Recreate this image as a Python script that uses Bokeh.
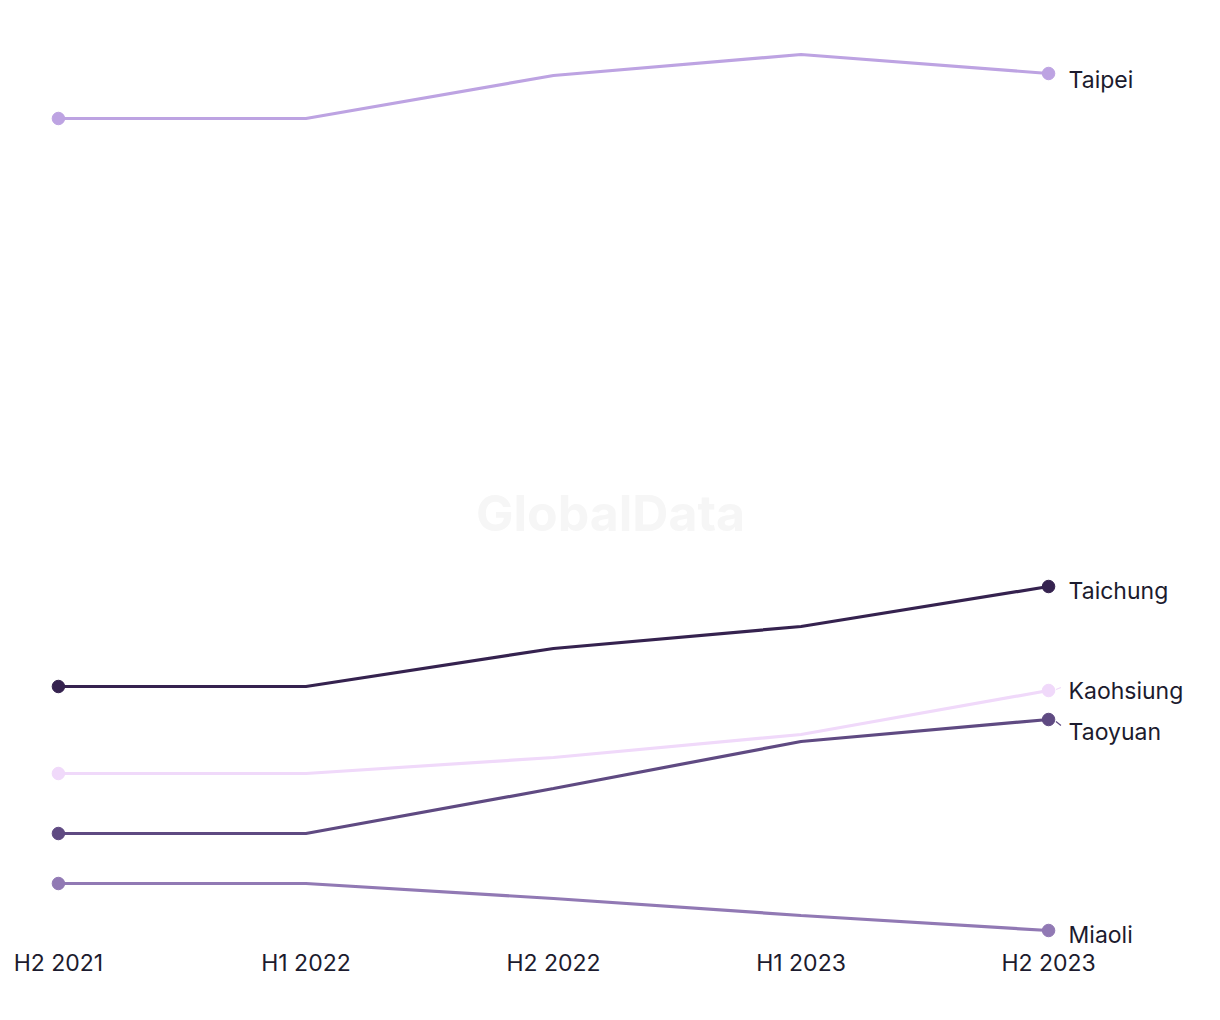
from bokeh.plotting import figure
from bokeh.models import Range1d, FixedTicker, Label, ColumnDataSource
from bokeh.core.properties import value
from bokeh.embed import file_html
from bokeh.resources import INLINE

periods = ["H2 2021", "H1 2022", "H2 2022", "H1 2023", "H2 2023"]
names = ["Taipei", "Taichung", "Kaohsiung", "Taoyuan", "Miaoli"]
taipei = [83.2, 83.2, 87.5, 89.6, 87.7]
taichung = [26.4, 26.4, 30.2, 32.4, 36.4]
kaohsiung = [17.7, 17.7, 19.3, 21.6, 26.0]
taoyuan = [11.7, 11.7, 16.2, 20.9, 23.1]
miaoli = [6.7, 6.7, 5.2, 3.5, 2.0]
series = [taipei, taichung, kaohsiung, taoyuan, miaoli]
colors = ["#bda3e2", "#35224f", "#f0d9fa", "#5f4a82", "#9179b4"]
label_y = [87.7, 36.6, 26.6, 22.5, 2.2]

FONT = "Inter"
TEXT = "#1c1b2e"

xs = list(range(len(periods)))

p = figure(width=1204, height=998, output_backend="svg", toolbar_location=None,
           x_range=Range1d(-0.234, 4.630), y_range=Range1d(0.2, 95.0),
           min_border_left=0, min_border_right=0, min_border_top=0, min_border_bottom=50)
p.outline_line_color = None
p.grid.visible = False
p.yaxis.visible = False
p.background_fill_color = "white"

wm = Label(x=610, y=436, x_units="screen", y_units="screen", text="GlobalData",
           text_align="center", text_baseline="middle", text_font=FONT,
           text_font_size="50px", text_font_style="bold", text_color="#f6f6f6")
p.add_layout(wm)

order = [2, 4, 3, 1, 0]
for i in order:
    p.line(xs, series[i], line_color=colors[i], line_width=3.2)
    p.scatter([xs[0], xs[-1]], [series[i][0], series[i][-1]], size=12.5,
              fill_color=colors[i], line_color=colors[i])

# short leader lines
p.segment(x0=[4.03, 4.03], y0=[26.1, 22.9], x1=[4.05, 4.05], y1=[26.3, 22.5],
          line_color=[colors[2], colors[3]], line_width=1.2)

src = ColumnDataSource(dict(x=[4] * 5, y=label_y, t=names))
p.text(x="x", y="y", text="t", source=src, x_offset=20, y_offset=6,
       text_font=value(FONT), text_font_size="23px", text_color=TEXT,
       text_baseline="middle", text_align="left")

ax = p.xaxis[0]
ax.ticker = FixedTicker(ticks=xs)
ax.major_label_overrides = {i: s for i, s in enumerate(periods)}
ax.axis_line_color = None
ax.major_tick_line_color = None
ax.minor_tick_line_color = None
ax.major_tick_out = 0
ax.major_tick_in = 0
ax.major_label_standoff = 0
ax.major_label_text_font = FONT
ax.major_label_text_font_size = "23px"
ax.major_label_text_color = TEXT

open("out.html", "w").write(file_html(p, INLINE))
